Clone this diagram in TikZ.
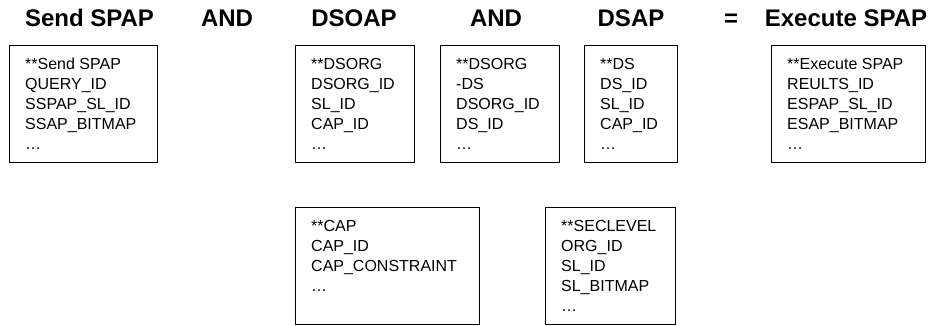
\documentclass[tikz,border=0pt]{standalone}
\usepackage{fontspec}
\setmainfont{Liberation Sans}
\begin{document}
\begin{tikzpicture}[
    x=1pt, y=-1pt,
    title/.style={anchor=base, font=\bfseries\fontsize{24}{28}\selectfont},
    entity/.style={draw, line width=1.1pt, anchor=north west, inner sep=0pt,
                   minimum width=#1, minimum height=117pt},
    fields/.style={anchor=north west, align=left, inner xsep=16pt, inner ysep=13pt,
                   font=\fontsize{16}{20}\selectfont},
]
\useasboundingbox (0,0) rectangle (933,326);

% headings across the top
\node[title] (hsend)  at (89.5,27) {Send SPAP};
\node[title] (hand1)  at (227,27)  {AND};
\node[title] (hdsoap) at (354,27)  {DSOAP};
\node[title] (hand2)  at (496,27)  {AND};
\node[title] (hdsap)  at (631,27)  {DSAP};
\node[title] (heq)    at (731,27)  {=};
\node[title] (hexec)  at (846,27)  {Execute SPAP};

% tables, top row
\node[entity=148pt] (sspap)   at (9,45)   {};
\node[entity=119pt] (dsorg)   at (295,45) {};
\node[entity=119pt] (dsorgds) at (440,45) {};
\node[entity=93pt]  (ds)      at (584,45) {};
\node[entity=154pt] (espap)   at (771,45) {};

\node[fields] (sspap-f)   at (sspap.north west)   {**Send SPAP\\QUERY\_ID\\SSPAP\_SL\_ID\\SSAP\_BITMAP\\…};
\node[fields] (dsorg-f)   at (dsorg.north west)   {**DSORG\\DSORG\_ID\\SL\_ID\\CAP\_ID\\…};
\node[fields] (dsorgds-f) at (dsorgds.north west) {**DSORG\\-DS\\DSORG\_ID\\DS\_ID\\…};
\node[fields] (ds-f)      at (ds.north west)      {**DS\\DS\_ID\\SL\_ID\\CAP\_ID\\…};
\node[fields] (espap-f)   at (espap.north west)   {**Execute SPAP\\REULTS\_ID\\ESPAP\_SL\_ID\\ESAP\_BITMAP\\…};

% tables, bottom row
\node[entity=184pt] (cap)      at (295,207) {};
\node[entity=130pt] (seclevel) at (545,207) {};

\node[fields] (cap-f)      at (cap.north west)      {**CAP\\CAP\_ID\\CAP\_CONSTRAINT\\…};
\node[fields] (seclevel-f) at (seclevel.north west) {**SECLEVEL\\ORG\_ID\\SL\_ID\\SL\_BITMAP\\…};
\end{tikzpicture}
\end{document}
